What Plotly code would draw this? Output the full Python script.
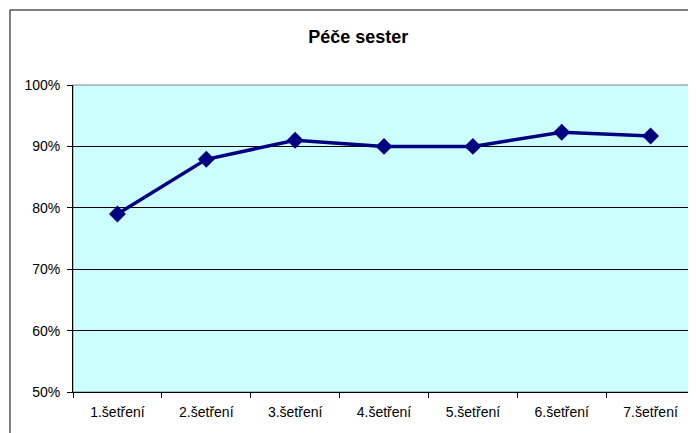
import plotly.graph_objects as go

kategorie = ["1.šetření", "2.šetření", "3.šetření", "4.šetření", "5.šetření", "6.šetření", "7.šetření"]
pece_sester = [0.79, 0.879, 0.91, 0.90, 0.90, 0.923, 0.917]
y_ticks = [0.5, 0.6, 0.7, 0.8, 0.9, 1.0]

fig = go.Figure()
fig.add_trace(go.Scatter(
    x=kategorie, y=pece_sester, mode="lines+markers",
    line=dict(color="#000080", width=3.5),
    marker=dict(symbol="diamond", size=13, color="#000080"),
    showlegend=False, hoverinfo="x+y",
))

# the page body adds an 8px margin, so the figure is 8px smaller
fig.update_layout(
    width=688, height=425,
    margin=dict(l=65, r=1, t=77, b=41),
    paper_bgcolor="white",
    plot_bgcolor="#CCFFFF",
    font=dict(family="Arial, Liberation Sans", size=14, color="black"),
    title=dict(text="<b>Péče sester</b>", x=0.509, xanchor="center",
               y=0.932, yanchor="middle", font=dict(size=18)),
    shapes=[
        # outer chart border
        dict(type="rect", xref="paper", yref="paper",
             x0=-0.1013, x1=1.2, y0=-0.3, y1=1.2443,
             line=dict(color="black", width=1), layer="below"),
        # plot-area border
        dict(type="rect", xref="paper", yref="paper",
             x0=0, x1=1, y0=0, y1=1,
             line=dict(color="#808080", width=1), layer="below"),
    ],
)

fig.update_xaxes(
    type="category", range=[-0.5, 6.5],
    tickson="boundaries", ticks="outside", ticklen=5, tickcolor="black",
    ticklabelstandoff=7,
    showline=True, linecolor="black", linewidth=1,
    showgrid=False, zeroline=False,
)
fig.update_yaxes(
    range=[0.5, 1.0], tickvals=y_ticks, tickformat=".0%",
    ticks="outside", ticklen=5, tickcolor="black",
    ticklabelstandoff=4,
    showline=True, linecolor="black", linewidth=1,
    showgrid=True, gridcolor="black", gridwidth=1,
    zeroline=False,
)

fig.write_html("out.html")
